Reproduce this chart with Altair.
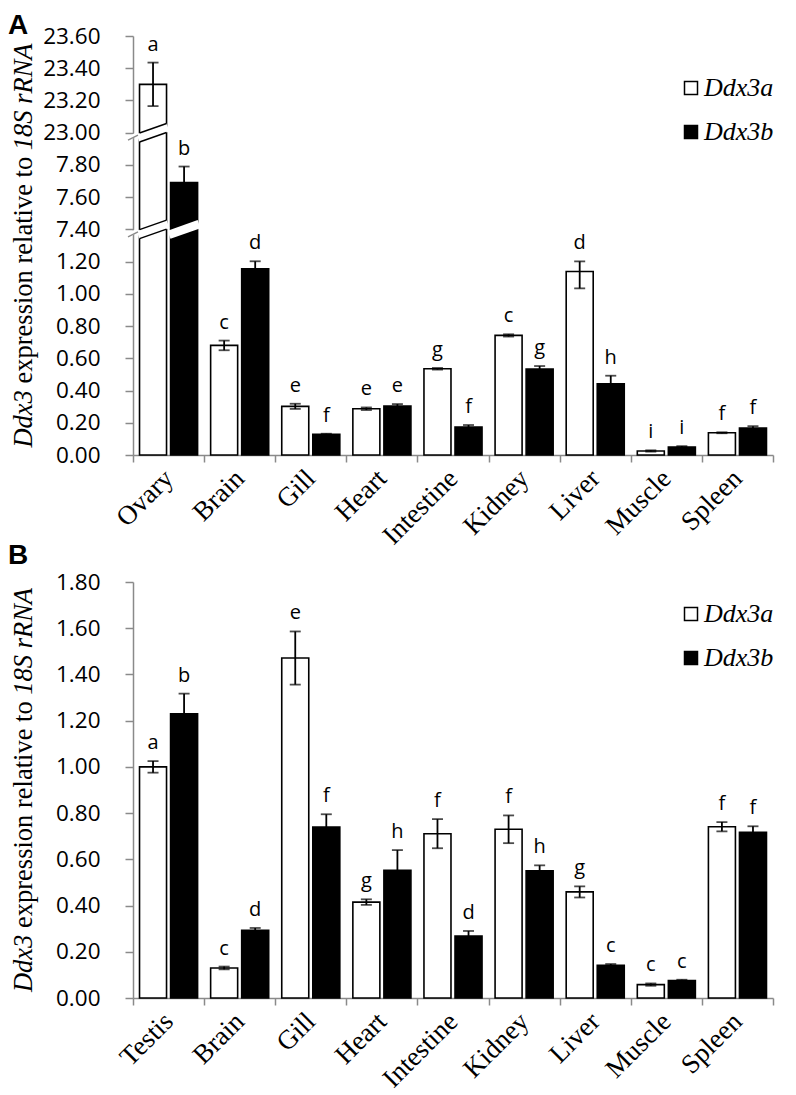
import altair as alt
import pandas as pd

genes = ["Ddx3a", "Ddx3b"]

# ---------------- Panel A data ----------------
tissues_A = ["Ovary", "Brain", "Gill", "Heart", "Intestine", "Kidney", "Liver", "Muscle", "Spleen"]
a_val_A = [23.30, 0.68, 0.302, 0.287, 0.535, 0.742, 1.139, 0.025, 0.138]
a_err_A = [0.135, 0.03, 0.016, 0.008, 0.005, 0.007, 0.105, 0.004, 0.003]
b_val_A = [7.69, 1.156, 0.128, 0.304, 0.174, 0.534, 0.442, 0.05, 0.167]
b_err_A = [0.10, 0.11, 0.004, 0.012, 0.012, 0.018, 0.05, 0.005, 0.012]
a_let_A = ["a", "c", "e", "e", "g", "c", "d", "i", "f"]
b_let_A = ["b", "d", "f", "e", "f", "g", "h", "i", "f"]
ticks_A = [0.0, 0.2, 0.4, 0.6, 0.8, 1.0, 1.2, 7.4, 7.6, 7.8, 23.0, 23.2, 23.4, 23.6]
breaks_A = [0.0, 1.2, 7.4, 7.8, 23.0, 23.6]
slots_A = [0, 6, 7, 9, 10, 13]

# ---------------- Panel B data ----------------
tissues_B = ["Testis", "Brain", "Gill", "Heart", "Intestine", "Kidney", "Liver", "Muscle", "Spleen"]
a_val_B = [1.00, 0.13, 1.471, 0.415, 0.711, 0.73, 0.459, 0.058, 0.741]
a_err_B = [0.025, 0.006, 0.115, 0.012, 0.063, 0.06, 0.024, 0.005, 0.02]
b_val_B = [1.23, 0.293, 0.74, 0.553, 0.268, 0.55, 0.141, 0.075, 0.717]
b_err_B = [0.087, 0.01, 0.055, 0.087, 0.022, 0.024, 0.006, 0.004, 0.026]
a_let_B = ["a", "c", "e", "g", "f", "f", "g", "c", "f"]
b_let_B = ["b", "d", "f", "h", "d", "h", "c", "c", "f"]
ticks_B = [0.0, 0.2, 0.4, 0.6, 0.8, 1.0, 1.2, 1.4, 1.6, 1.8]

SERIF = "Liberation Serif"
SANS = "Open Sans"
BOLD = "Liberation Sans"
GRAY = "#8a8a8a"

W = 640
HA = 419
HB = 416
P_IN = 0.13
P_OUT = 0.21


def long_df(tissues, av, ae, bv, be, la, lb):
    rows = []
    for i, t in enumerate(tissues):
        rows.append(dict(tissue=t, gene="Ddx3a", value=av[i], err=ae[i], letter=la[i]))
        rows.append(dict(tissue=t, gene="Ddx3b", value=bv[i], err=be[i], letter=lb[i]))
    df = pd.DataFrame(rows)
    df["lo"] = df["value"] - df["err"]
    df["hi"] = df["value"] + df["err"]
    return df


one = pd.DataFrame({"k": [0]})


def seg(x1, y1, x2, y2, color, width):
    return alt.Chart(one).mark_rule(color=color, strokeWidth=width, strokeCap="butt").encode(
        x=alt.value(x1), y=alt.value(y1), x2=alt.value(x2), y2=alt.value(y2))


def ytitle(H):
    F = 26.5
    L = 15.248 * F
    start = H / 2 + L / 2
    pieces = [("Ddx3", "italic", 0.0),
              ("expression relative to", "normal", (2.166 + 0.25) * F),
              ("18S rRNA", "italic", (2.166 + 0.25 + 8.554 + 0.25) * F)]
    out = []
    for txt, style, off in pieces:
        out.append(alt.Chart(one).mark_text(text=txt, angle=270, align="left", baseline="alphabetic",
                                            font=SERIF, fontSize=F, fontStyle=style, color="black")
                   .encode(x=alt.value(-101), y=alt.value(start - off)))
    return out


def panel(df, tissues, yscale, ticks, H, label, label_y, legend_y, extra):
    xaxis = alt.Axis(title=None, labelAngle=-45, labelAlign="right", labelBaseline="middle",
                     labelFont=SERIF, labelFontSize=27, labelColor="black", tickBand="extent",
                     tickSize=7, labelPadding=12, domainColor=GRAY, tickColor=GRAY,
                     domainWidth=1.5, tickWidth=1.5, grid=False)
    yaxis = alt.Axis(title=None, values=ticks, format=".2f", labelFont=SANS, labelFontSize=22.5,
                     labelColor="black", tickSize=8, labelPadding=25, domainColor=GRAY,
                     tickColor=GRAY, domainWidth=1.5, tickWidth=1.5, grid=False)
    x = alt.X("tissue:N", sort=tissues, scale=alt.Scale(paddingInner=0, paddingOuter=0), axis=xaxis)
    xo = alt.XOffset("gene:N", sort=genes, scale=alt.Scale(paddingInner=P_IN, paddingOuter=P_OUT))
    base = alt.Chart(df)
    bars = base.mark_bar(stroke="black", strokeWidth=1.6).encode(
        x=x, xOffset=xo,
        y=alt.Y("value:Q", scale=yscale, axis=yaxis),
        fill=alt.Fill("gene:N", scale=alt.Scale(domain=genes, range=["white", "black"]),
                      legend=alt.Legend(title=None, orient="none", legendX=545, legendY=legend_y,
                                        symbolType="square", symbolSize=169, symbolStrokeColor="black",
                                        symbolStrokeWidth=1.5, labelFont=SERIF, labelFontStyle="italic",
                                        labelFontSize=26, labelColor="black", labelOffset=0,
                                        rowPadding=18, padding=0)))
    rules = base.mark_rule(color="black", strokeWidth=1.8).encode(
        x=x, xOffset=xo, y=alt.Y("lo:Q", scale=yscale, axis=yaxis), y2="hi:Q")
    cap_hi = base.mark_tick(color="black", thickness=1.8, size=11).encode(
        x=x, xOffset=xo, y=alt.Y("hi:Q", scale=yscale, axis=yaxis))
    cap_lo = base.mark_tick(color="black", thickness=1.8, size=11).encode(
        x=x, xOffset=xo, y=alt.Y("lo:Q", scale=yscale, axis=yaxis))
    letters = base.mark_text(font=SANS, fontSize=20, baseline="alphabetic", dy=-12, color="black").encode(
        x=x, xOffset=xo, y=alt.Y("hi:Q", scale=yscale, axis=yaxis), text="letter:N")
    lab = alt.Chart(one).mark_text(text=label, font=BOLD, fontWeight="bold", fontSize=28, align="left",
                                   baseline="alphabetic", color="black").encode(
        x=alt.value(-125), y=alt.value(label_y))
    layers = [bars] + extra + [rules, cap_hi, cap_lo, letters, lab] + ytitle(H)
    return alt.layer(*layers).properties(width=W, height=H)


# ----- broken-axis decorations for panel A -----
S = HA / 13
band = W / 9
step = band / (2 - P_IN + 2 * P_OUT)
bw = step * (1 - P_IN)
wx0 = P_OUT * step
wx1 = wx0 + bw
kx0 = wx0 + step
kx1 = kx0 + bw
y74 = HA - 7 * S
y23 = HA - 10 * S
K = 0.35


def cut(xa, xb, yc, edges):
    xm = (xa + xb) / 2
    out = [seg(xa - 1.5, yc + K * (xm - xa + 1.5), xb + 1.5, yc - K * (xb + 1.5 - xm), "white", 8.5)]
    if edges:
        for g in (-4.5, 4.5):
            out.append(seg(xa, yc + K * (xm - xa) + g, xb, yc - K * (xb - xm) + g, "black", 1.5))
    return out


def axis_break(yc):
    return [seg(-5, yc + 6, 5, yc + 1, "white", 4),
            seg(-5, yc + 7.5, 5, yc + 2.5, GRAY, 1.3)]


extraA = (cut(wx0, wx1, y74, True) + cut(kx0, kx1, y74, False) + cut(wx0, wx1, y23, True)
          + axis_break(y74) + axis_break(y23))

yscaleA = alt.Scale(domain=breaks_A, range=[HA - s * S for s in slots_A], nice=False, zero=False)
yscaleB = alt.Scale(domain=[0, 1.8], nice=False, zero=False)

dfA = long_df(tissues_A, a_val_A, a_err_A, b_val_A, b_err_A, a_let_A, b_let_A)
dfB = long_df(tissues_B, a_val_B, a_err_B, b_val_B, b_err_B, a_let_B, b_let_B)

panelA = panel(dfA, tissues_A, yscaleA, ticks_A, HA, "A", -2, 39, extraA)
panelB = panel(dfB, tissues_B, yscaleB, ticks_B, HB, "B", -18, 19, [])

chart = (alt.vconcat(panelA, panelB, spacing=127, bounds="flush")
         .resolve_scale(fill="independent", x="independent", y="independent", xOffset="independent")
         .resolve_legend(fill="independent")
         .properties(padding={"left": 0, "top": 4, "right": 5, "bottom": 0})
         .configure_view(stroke=None))

chart.save("out.html", embed_options={"renderer": "svg", "actions": False})
